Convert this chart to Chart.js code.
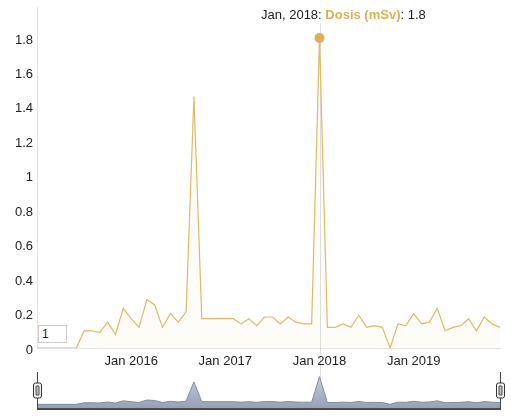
<!DOCTYPE html>
<html>
<head>
<meta charset="utf-8">
<script src="https://cdn.jsdelivr.net/npm/chart.js@4/dist/chart.umd.min.js"></script>
<style>
  html, body { margin: 0; padding: 0; background: #fff; }
  #wrap { position: relative; width: 511px; height: 418px; font-family: "Liberation Sans", Arial, sans-serif; }
  #main { position: absolute; left: 0; top: 0; }
  #range { position: absolute; left: 0; top: 365px; }
  #roller {
    position: absolute; left: 38px; top: 325px; width: 29px; height: 18px;
    box-sizing: border-box; border: 1px solid #ccc; padding: 0 3px; margin: 0;
    font: 12px "Liberation Sans", Arial, sans-serif; color: #222; background: #fff; outline: none;
  }
</style>
</head>
<body>
<div id="wrap">
  <canvas id="main" width="511" height="380"></canvas>
  <canvas id="range" width="511" height="53"></canvas>
  <input id="roller" type="text" value="1">
</div>
<script>
// monthly dose readings, Jan 2015 .. Dec 2019
const years = [2015, 2016, 2017, 2018, 2019];
const monthNames = ['Jan', 'Feb', 'Mar', 'Apr', 'May', 'Jun', 'Jul', 'Aug', 'Sep', 'Oct', 'Nov', 'Dec'];
const dosis = [
  0, 0, 0, 0, 0, 0, 0.10, 0.10, 0.09, 0.15, 0.08, 0.23,
  0.17, 0.12, 0.28, 0.25, 0.12, 0.20, 0.15, 0.21, 1.46, 0.17, 0.17, 0.17,
  0.17, 0.17, 0.14, 0.17, 0.13, 0.18, 0.18, 0.14, 0.18, 0.15, 0.14, 0.14,
  1.8, 0.12, 0.12, 0.14, 0.12, 0.19, 0.12, 0.13, 0.12, 0, 0.14, 0.13,
  0.20, 0.14, 0.15, 0.23, 0.10, 0.12, 0.13, 0.17, 0.10, 0.18, 0.14, 0.12
];
const xTickLabels = ['Jan 2016', 'Jan 2017', 'Jan 2018', 'Jan 2019'];
const yTicks = [0, 0.2, 0.4, 0.6, 0.8, 1, 1.2, 1.4, 1.6, 1.8];
const seriesName = 'Dosis (mSv)';
const selectedMonth = 'Jan 2018';

const months = years.flatMap(y => monthNames.map(m => m + ' ' + y));
const selIdx = months.indexOf(selectedMonth);

const gold = '#dcb053';
const FONT = '"Liberation Sans", Arial, sans-serif';

// crosshair + legend line for the selected point
const selection = {
  id: 'selection',
  beforeDatasetsDraw(chart) {
    const pt = chart.getDatasetMeta(0).data[selIdx];
    const c = chart.ctx;
    c.save();
    c.strokeStyle = 'rgba(0,0,0,0.13)';
    c.lineWidth = 1;
    c.beginPath();
    c.moveTo(Math.round(pt.x) + 0.5, 23);
    c.lineTo(Math.round(pt.x) + 0.5, 378);
    c.stroke();
    c.restore();
  },
  afterDraw(chart) {
    const c = chart.ctx;
    const parts = [
      [selectedMonth.replace(' ', ', ') + ': ', '#222', ''],
      [seriesName, gold, 'bold '],
      [': ' + dosis[selIdx], '#222', '']
    ];
    let x = 261;
    c.save();
    c.textBaseline = 'middle';
    parts.forEach(([txt, col, w]) => {
      c.font = w + '13px ' + FONT;
      c.fillStyle = col;
      c.fillText(txt, x, 15);
      x += c.measureText(txt).width;
    });
    c.restore();
  }
};

const mainChart = new Chart(document.getElementById('main'), {
  type: 'line',
  data: {
    labels: months,
    datasets: [{
      label: seriesName,
      data: dosis,
      borderColor: '#e2b864',
      borderWidth: 1.2,
      backgroundColor: 'rgba(220,176,83,0.04)',
      fill: 'origin',
      tension: 0,
      pointRadius: ctx => ctx.dataIndex === selIdx ? 5 : 0,
      pointBackgroundColor: gold,
      pointBorderWidth: 0
    }]
  },
  options: {
    responsive: false,
    animation: false,
    events: [],
    layout: { padding: { top: 7, right: 11, left: 0, bottom: 0 } },
    plugins: { legend: { display: false }, tooltip: { enabled: false } },
    scales: {
      x: {
        grid: { display: false, drawTicks: false },
        border: { color: '#e2e2e2' },
        ticks: { autoSkip: false, maxRotation: 0, padding: 6, color: '#222', font: { family: FONT, size: 13 } },
        afterBuildTicks: s => { s.ticks = s.ticks.filter(t => xTickLabels.includes(months[t.value])); },
        afterFit: s => { s.height = 32; s.paddingLeft = 0; s.paddingRight = 0; }
      },
      y: {
        min: 0,
        max: 1.98,
        grid: { display: false, drawTicks: false },
        border: { color: '#e2e2e2' },
        ticks: { padding: 4, labelOffset: 2, color: '#222', font: { family: FONT, size: 13 }, callback: v => String(+v.toFixed(1)) },
        afterBuildTicks: s => { s.ticks = yTicks.map(v => ({ value: v })); },
        afterFit: s => { s.width = 37; s.paddingTop = 0; s.paddingBottom = 0; }
      }
    }
  },
  plugins: [selection]
});

// range selector frame and handles
const rangeFrame = {
  id: 'rangeFrame',
  afterDraw(chart) {
    const a = chart.chartArea;
    const c = chart.ctx;
    c.save();
    c.strokeStyle = '#444';
    c.lineWidth = 1;
    [a.left, a.right].forEach(x => {
      const px = Math.round(x) + 0.5;
      c.beginPath();
      c.moveTo(px, 7);
      c.lineTo(px, a.bottom);
      c.stroke();
    });
    c.lineWidth = 2;
    c.strokeStyle = '#4a4a4a';
    c.beginPath();
    c.moveTo(a.left, a.bottom + 1);
    c.lineTo(a.right + 1, a.bottom + 1);
    c.stroke();
    [a.left, a.right].forEach(x => {
      const px = Math.round(x) + 0.5;
      c.fillStyle = '#f2f2f2';
      c.strokeStyle = '#333';
      c.lineWidth = 1;
      c.beginPath();
      c.roundRect(px - 4, 18, 8, 15, 2);
      c.fill();
      c.stroke();
      c.fillStyle = '#bbb';
      c.strokeStyle = '#555';
      c.beginPath();
      c.rect(px - 1.5, 21, 3, 9);
      c.fill();
      c.stroke();
    });
    c.restore();
  }
};

const rangeChart = new Chart(document.getElementById('range'), {
  type: 'line',
  data: {
    labels: months,
    datasets: [{
      data: dosis,
      borderColor: '#7f8ca6',
      borderWidth: 1,
      fill: 'start',
      tension: 0,
      pointRadius: 0,
      backgroundColor: ctx => {
        const a = ctx.chart.chartArea;
        if (!a) return '#a3adc0';
        const g = ctx.chart.ctx.createLinearGradient(0, a.top, 0, a.bottom);
        g.addColorStop(0, '#d3d8e2');
        g.addColorStop(1, '#95a1b8');
        return g;
      }
    }]
  },
  options: {
    responsive: false,
    animation: false,
    events: [],
    layout: { padding: { top: 3, right: 11, left: 37, bottom: 10 } },
    plugins: { legend: { display: false }, tooltip: { enabled: false } },
    scales: {
      x: { display: false },
      y: { display: false, min: -0.24, max: 2.37 }
    }
  },
  plugins: [rangeFrame]
});
</script>
</body>
</html>
